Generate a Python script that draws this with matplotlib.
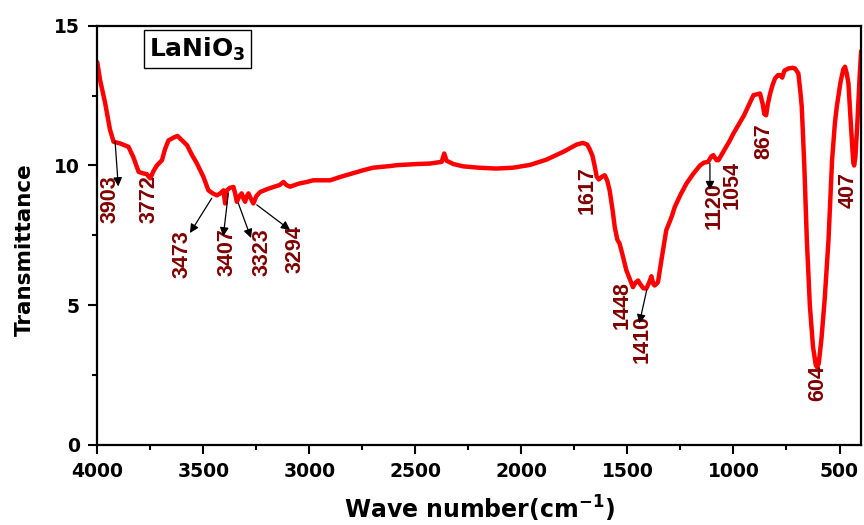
import matplotlib
matplotlib.use("Agg")
import matplotlib.pyplot as plt
from matplotlib.ticker import MultipleLocator

# ---- data ----
wavenumber = [4000, 3987, 3963, 3940, 3923, 3892, 3870, 3853, 3830, 3805, 3785, 3766,
              3758, 3750, 3735, 3719, 3695, 3680, 3664, 3640, 3622, 3600, 3577, 3555,
              3530, 3500, 3476, 3455, 3436, 3420, 3405, 3397, 3390, 3375, 3358, 3350,
              3342, 3330, 3319, 3310, 3303, 3295, 3287, 3275, 3264, 3250, 3232, 3200,
              3169, 3140, 3122, 3108, 3091, 3050, 3012, 2982, 2950, 2902, 2850, 2800,
              2746, 2700, 2620, 2588, 2500, 2431, 2376, 2364, 2353, 2320, 2275, 2200,
              2118, 2040, 1960, 1882, 1800, 1740, 1710, 1690, 1679, 1665, 1655, 1645,
              1635, 1620, 1607, 1595, 1584, 1570, 1560, 1548, 1537, 1520, 1505, 1490,
              1474, 1462, 1450, 1440, 1425, 1411, 1398, 1387, 1378, 1372, 1364, 1356,
              1340, 1317, 1300, 1290, 1277, 1250, 1222, 1190, 1158, 1140, 1120, 1104,
              1095, 1080, 1071, 1040, 1016, 1000, 950, 906, 890, 875, 862, 855, 846,
              838, 827, 815, 804, 790, 780, 770, 760, 740, 720, 710, 694, 684, 678,
              666, 654, 640, 625, 612, 606, 598, 585, 570, 552, 535, 522, 513, 495,
              482, 474, 466, 458, 445, 435, 431, 425, 416, 405, 398]
transmittance = [13.7, 13.07, 12.24, 11.28, 10.85, 10.79, 10.72, 10.67, 10.3, 9.77, 9.72, 9.69,
                 9.6, 9.54, 9.8, 10.0, 10.19, 10.6, 10.9, 11.0, 11.06, 10.9, 10.73, 10.4,
                 10.07, 9.6, 9.11, 9.0, 8.93, 9.0, 9.11, 8.64, 9.1, 9.2, 9.23, 9.0,
                 8.70, 8.9, 9.0, 8.8, 8.70, 8.9, 9.0, 8.8, 8.64, 8.9, 9.05, 9.15,
                 9.23, 9.3, 9.41, 9.3, 9.24, 9.35, 9.41, 9.47, 9.47, 9.47, 9.6, 9.71,
                 9.83, 9.92, 9.98, 10.01, 10.05, 10.07, 10.13, 10.43, 10.17, 10.05, 9.97, 9.92,
                 9.89, 9.92, 10.02, 10.21, 10.5, 10.75, 10.81, 10.75, 10.6, 10.35, 10.0, 9.6,
                 9.5, 9.6, 9.65, 9.45, 9.11, 8.4, 7.8, 7.35, 7.2, 6.7, 6.24, 5.95,
                 5.64, 5.8, 5.88, 5.75, 5.6, 5.59, 5.8, 6.03, 5.75, 5.7, 5.75, 5.82,
                 6.6, 7.68, 8.0, 8.2, 8.51, 8.95, 9.35, 9.7, 10.0, 10.1, 10.13, 10.33,
                 10.37, 10.19, 10.19, 10.6, 10.91, 11.15, 11.8, 12.52, 12.55, 12.58, 12.2, 11.85, 11.8,
                 12.2, 12.58, 12.9, 13.12, 13.24, 13.24, 13.15, 13.4, 13.48, 13.5, 13.48, 13.3, 12.6, 12.1,
                 10.0, 7.32, 5.0, 3.5, 2.85, 2.77, 2.9, 3.8, 5.2, 7.32, 10.2, 11.5, 12.1, 13.0,
                 13.45, 13.54, 13.3, 12.95, 11.3, 10.1, 10.0, 10.3, 11.5, 13.2, 14.1]

peak_labels = ["3903", "3772", "3473", "3407", "3323", "3294", "1617", "1448",
               "1410", "1120", "1054", "867", "407", "604"]

x_ticks = [4000, 3500, 3000, 2500, 2000, 1500, 1000, 500]
y_ticks = [0, 5, 10, 15]

# ---- layout of the peak labels (label centre, optional arrow start/end) ----
label_pos = {
    "3903": (3940, 8.81), "3772": (3755, 8.81), "3473": (3602, 6.82),
    "3407": (3390, 6.90), "3323": (3225, 6.89), "3294": (3068, 7.02),
    "1617": (1689, 9.11), "1448": (1526, 4.99), "1410": (1433, 3.77),
    "1120": (1091, 8.55), "1054": (1008, 9.29), "867": (856, 10.88),
    "407": (461, 9.11), "604": (601, 2.19),
}
arrows = {
    "3903": ((3916, 10.86), (3901, 9.25)),
    "3473": ((3460, 8.83), (3563, 7.58)),
    "3407": ((3382, 9.01), (3406, 7.46)),
    "3323": ((3335, 8.65), (3275, 7.40)),
    "3294": ((3248, 8.59), (3091, 7.69)),
    "1410": ((1409, 5.54), (1444, 4.34)),
    "1120": ((1111, 10.07), (1111, 9.12)),
}

fig = plt.figure(figsize=(8.64, 5.25), dpi=100)
ax = fig.add_axes([0.1126, 0.1533, 0.8836, 0.7972])

ax.plot(wavenumber, transmittance, color="#ff0000", lw=3.2,
        solid_joinstyle="round", solid_capstyle="round")

ax.set_xlim(4000, 400)
ax.set_ylim(0, 15)
ax.set_xticks(x_ticks)
ax.set_yticks(y_ticks)
ax.xaxis.set_minor_locator(MultipleLocator(250))
ax.yaxis.set_minor_locator(MultipleLocator(2.5))
ax.tick_params(which="major", direction="out", length=6.5, width=1.5, pad=6)
ax.tick_params(which="minor", direction="out", length=3.5, width=1.5)
ax.tick_params(top=False, right=False, which="both")
for lab in ax.get_xticklabels() + ax.get_yticklabels():
    lab.set_family("DejaVu Sans")
    lab.set_fontweight("bold")
    lab.set_fontsize(13.5)
for s in ax.spines.values():
    s.set_linewidth(1.6)

ax.set_xlabel(r"Wave number(cm$^{\mathbf{-1}}$)", family="DejaVu Sans",
              fontweight="bold", fontsize=17)
ax.xaxis.set_label_coords(0.5, -0.118)
ax.set_ylabel("Transmittance", family="DejaVu Sans", fontweight="bold", fontsize=15.5)
ax.yaxis.set_label_coords(-0.082, 0.465)

label_font = ["Liberation Sans Narrow", "Liberation Sans", "DejaVu Sans"]
for lab in peak_labels:
    x, y = label_pos[lab]
    ax.text(x, y, lab, rotation=90, ha="center", va="center", color="#800000",
            family=label_font, fontweight="bold", fontsize=15.5)
    if lab in arrows:
        (x0, y0), (x1, y1) = arrows[lab]
        ax.annotate("", xy=(x1, y1), xytext=(x0, y0),
                    arrowprops=dict(arrowstyle="-|>", color="black", lw=0.9,
                                    mutation_scale=13, shrinkA=0, shrinkB=0))

ax.text(0.131, 0.945, r"LaNiO$_{\mathbf{3}}$", transform=ax.transAxes,
        ha="center", va="center", family="DejaVu Sans", fontweight="bold",
        fontsize=18, color="black",
        bbox=dict(boxstyle="square,pad=0.2", fc="white", ec="black", lw=1.0))

fig.savefig("out.png", dpi=100)
